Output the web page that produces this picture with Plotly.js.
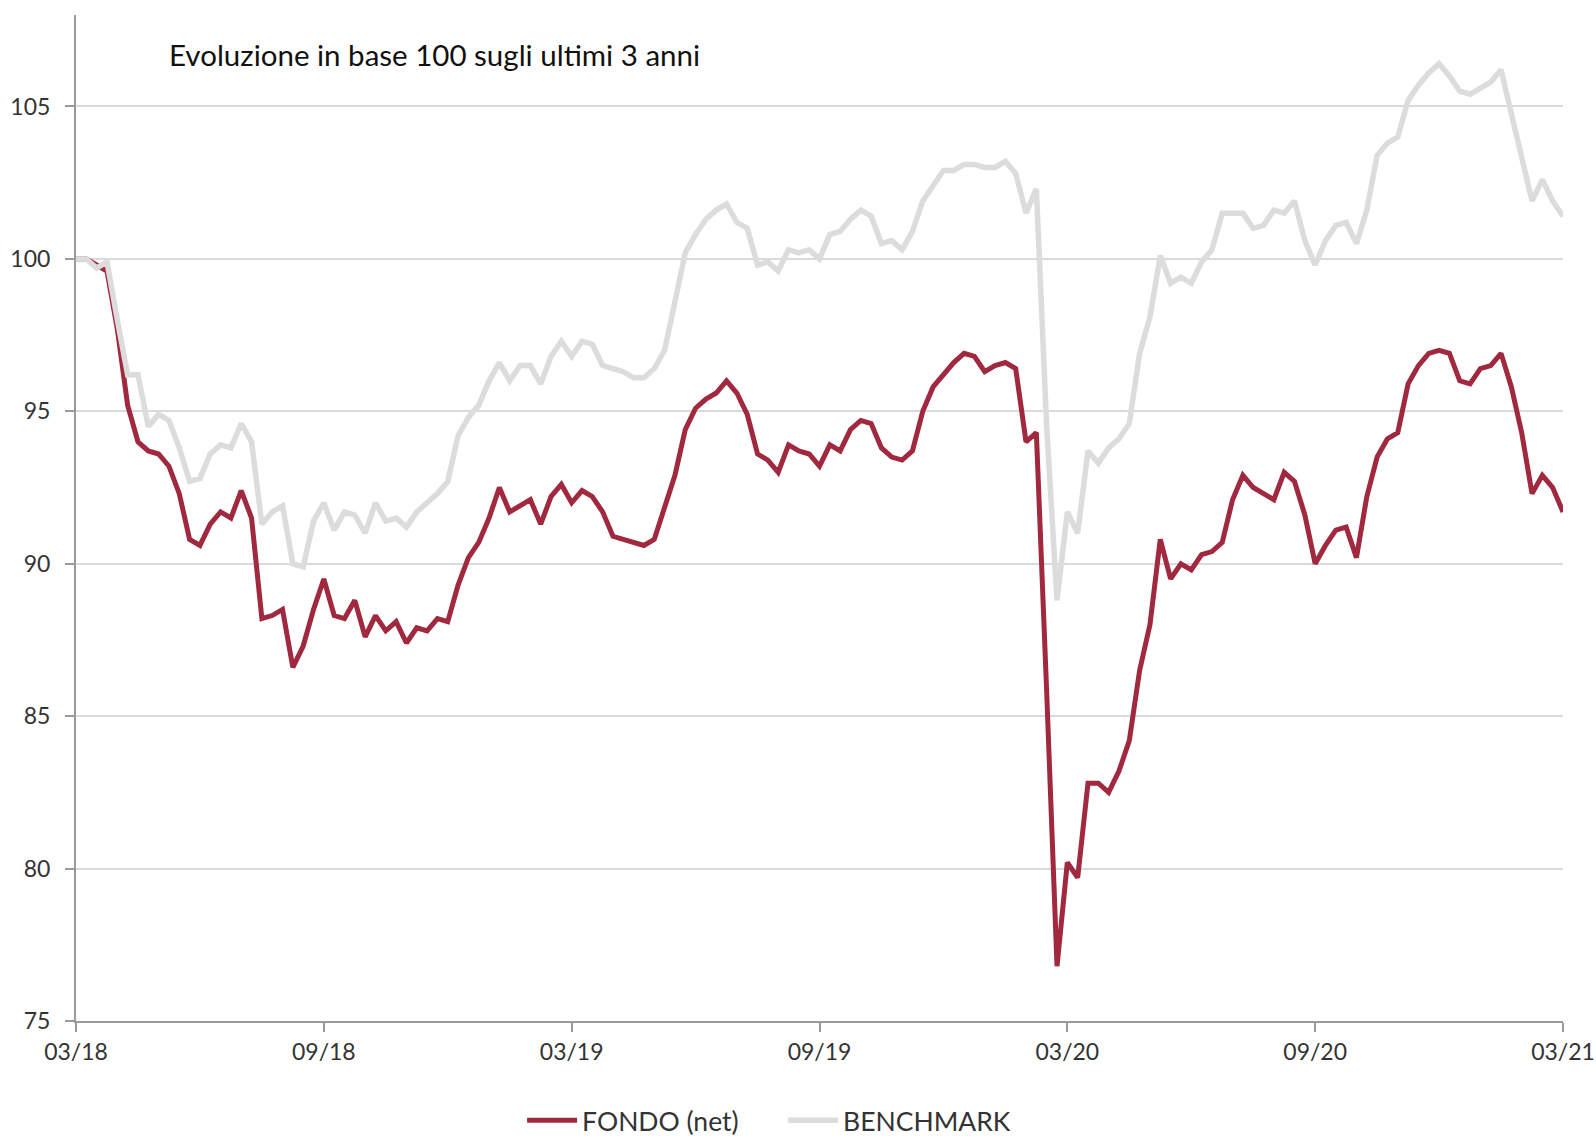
<!DOCTYPE html>
<html>
<head>
<meta charset="utf-8">
<script src="https://cdn.plot.ly/plotly-3.0.1.min.js"></script>
<style>
  html, body { margin: 0; padding: 0; background: #ffffff; }
  #chart { width: 1596px; height: 1138px; }
</style>
</head>
<body>
<div id="chart"></div>
<script>
// Sampling step along the x axis (months since 03/18)
const stepMonths = 0.25;

const tickVals = [0, 6, 12, 18, 24, 30, 36];
const tickLabels = ['03/18', '09/18', '03/19', '09/19', '03/20', '09/20', '03/21'];
const yTicks = [75, 80, 85, 90, 95, 100, 105];

const seriesNames = ['FONDO (net)', 'BENCHMARK'];

// FONDO (net), base 100
const fondo = [
  100.0, 100.0, 99.8, 99.6, 97.7, 95.2, 94.0, 93.7, 93.6, 93.2,
  92.3, 90.8, 90.6, 91.3, 91.7, 91.5, 92.4, 91.5, 88.2, 88.3,
  88.5, 86.6, 87.3, 88.5, 89.5, 88.3, 88.2, 88.8, 87.6, 88.3,
  87.8, 88.1, 87.4, 87.9, 87.8, 88.2, 88.1, 89.3, 90.2, 90.7,
  91.5, 92.5, 91.7, 91.9, 92.1, 91.3, 92.2, 92.6, 92.0, 92.4,
  92.2, 91.7, 90.9, 90.8, 90.7, 90.6, 90.8, 91.8, 92.9, 94.4,
  95.1, 95.4, 95.6, 96.0, 95.6, 94.9, 93.6, 93.4, 93.0, 93.9,
  93.7, 93.6, 93.2, 93.9, 93.7, 94.4, 94.7, 94.6, 93.8, 93.5,
  93.4, 93.7, 95.0, 95.8, 96.2, 96.6, 96.9, 96.8, 96.3, 96.5,
  96.6, 96.4, 94.0, 94.3, 85.8, 76.8, 80.2, 79.7, 82.8, 82.8,
  82.5, 83.2, 84.2, 86.5, 88.0, 90.8, 89.5, 90.0, 89.8, 90.3,
  90.4, 90.7, 92.1, 92.9, 92.5, 92.3, 92.1, 93.0, 92.7, 91.6,
  90.0, 90.6, 91.1, 91.2, 90.2, 92.2, 93.5, 94.1, 94.3, 95.9,
  96.5, 96.9, 97.0, 96.9, 96.0, 95.9, 96.4, 96.5, 96.9, 95.8,
  94.3, 92.3, 92.9, 92.5, 91.7
];

// BENCHMARK, base 100
const benchmark = [
  100.0, 100.0, 99.7, 99.9, 98.0, 96.2, 96.2, 94.5, 94.9, 94.7,
  93.8, 92.7, 92.8, 93.6, 93.9, 93.8, 94.6, 94.0, 91.3, 91.7,
  91.9, 90.0, 89.9, 91.4, 92.0, 91.1, 91.7, 91.6, 91.0, 92.0,
  91.4, 91.5, 91.2, 91.7, 92.0, 92.3, 92.7, 94.2, 94.8, 95.2,
  96.0, 96.6, 96.0, 96.5, 96.5, 95.9, 96.8, 97.3, 96.8, 97.3,
  97.2, 96.5, 96.4, 96.3, 96.1, 96.1, 96.4, 97.0, 98.6, 100.2,
  100.8, 101.3, 101.6, 101.8, 101.2, 101.0, 99.8, 99.9, 99.6, 100.3,
  100.2, 100.3, 100.0, 100.8, 100.9, 101.3, 101.6, 101.4, 100.5, 100.6,
  100.3, 100.9, 101.9, 102.4, 102.9, 102.9, 103.1, 103.1, 103.0, 103.0,
  103.2, 102.8, 101.5, 102.3, 94.5, 88.8, 91.7, 91.0, 93.7, 93.3,
  93.8, 94.1, 94.6, 96.9, 98.1, 100.1, 99.2, 99.4, 99.2, 99.9,
  100.3, 101.5, 101.5, 101.5, 101.0, 101.1, 101.6, 101.5, 101.9, 100.6,
  99.8, 100.6, 101.1, 101.2, 100.5, 101.6, 103.4, 103.8, 104.0, 105.2,
  105.7, 106.1, 106.4, 106.0, 105.5, 105.4, 105.6, 105.8, 106.2, 104.8,
  103.4, 101.9, 102.6, 101.9, 101.4
];

const months = fondo.map((_, i) => i * stepMonths);

const FONT = 'Lato, "Open Sans", "DejaVu Sans", sans-serif';

const traces = [
  {
    x: months, y: fondo, name: seriesNames[0], type: 'scatter', mode: 'lines',
    line: { color: '#A0283F', width: 5 }
  },
  {
    x: months, y: benchmark, name: seriesNames[1], type: 'scatter', mode: 'lines',
    line: { color: '#DCDCDC', width: 5.5 }
  }
];

const layout = {
  width: 1596, height: 1138,
  margin: { l: 76, r: 33, t: 15, b: 117, autoexpand: false },
  paper_bgcolor: '#ffffff', plot_bgcolor: '#ffffff',
  font: { family: FONT, color: '#333333', size: 24 },
  showlegend: true,
  legend: {
    orientation: 'h', x: 0.30, xanchor: 'left', y: -0.099, yanchor: 'middle',
    itemwidth: 50, entrywidth: 196, entrywidthmode: 'pixels',
    font: { family: FONT, size: 26.5, color: '#333333' },
    bgcolor: 'rgba(0,0,0,0)'
  },
  xaxis: {
    range: [0, 36], tickmode: 'array', tickvals: tickVals, ticktext: tickLabels,
    showgrid: false, zeroline: false,
    showline: true, linecolor: '#9a9a9a', linewidth: 2,
    ticks: 'outside', ticklen: 9, tickwidth: 2, tickcolor: '#9a9a9a',
    tickfont: { family: FONT, size: 23, color: '#333333' },
    fixedrange: true
  },
  yaxis: {
    range: [75, 108], tickmode: 'array', tickvals: yTicks,
    showgrid: true, gridcolor: '#dadada', gridwidth: 2, zeroline: false,
    showline: true, linecolor: '#9a9a9a', linewidth: 2,
    ticks: 'outside', ticklen: 9, tickwidth: 2, tickcolor: '#9a9a9a',
    ticklabelstandoff: 10,
    tickfont: { family: FONT, size: 23, color: '#333333' },
    fixedrange: true
  },
  annotations: [
    {
      text: 'Evoluzione in base 100 sugli ultimi 3 anni',
      xref: 'paper', yref: 'paper', x: 0.061, y: 0.961,
      xanchor: 'left', yanchor: 'middle', showarrow: false,
      font: { family: FONT, size: 29.5, color: '#111111' }
    }
  ]
};

Plotly.newPlot('chart', traces, layout, { staticPlot: true, displayModeBar: false });
</script>
</body>
</html>
